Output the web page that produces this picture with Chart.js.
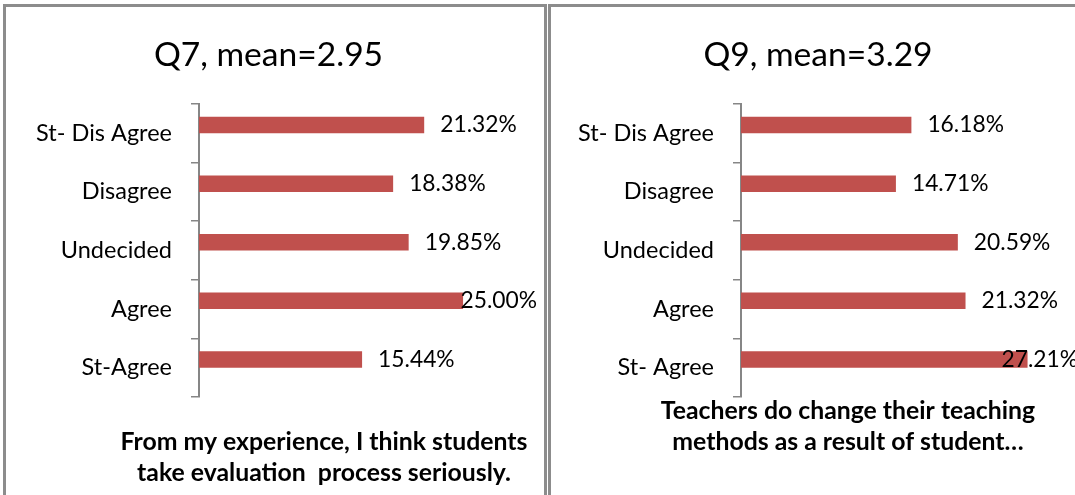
<!DOCTYPE html>
<html>
<head>
<meta charset="utf-8">
<script src="https://cdn.jsdelivr.net/npm/chart.js@4.4.1/dist/chart.umd.min.js"></script>
<style>
  html, body { margin: 0; padding: 0; background: #fff; width: 1075px; height: 495px; overflow: hidden; position: relative; }
  .panel { position: absolute; box-sizing: border-box; border: 3px solid #8c8c8c; border-bottom: none; }
  canvas { position: absolute; top: 0; }
</style>
</head>
<body>
<div class="panel" style="left:3px; top:4px; width:544px; height:520px;"></div>
<div class="panel" style="left:548px; top:4px; width:560px; height:520px;"></div>
<canvas id="q7" width="543" height="495" style="left:0px"></canvas>
<canvas id="q9" width="526" height="495" style="left:558px"></canvas>
<script>
const q7Labels = ["St- Dis Agree", "Disagree", "Undecided", "Agree", "St-Agree"]
const q7Values = [21.32, 18.38, 19.85, 25.00, 15.44]
const q7Title = "Q7, mean=2.95"
const q7Caption = ["From my experience, I think students", "take evaluation  process seriously."]

const q9Labels = ["St- Dis Agree", "Disagree", "Undecided", "Agree", "St- Agree"]
const q9Values = [16.18, 14.71, 20.59, 21.32, 27.21]
const q9Title = "Q9, mean=3.29"
const q9Caption = ["Teachers do change their teaching", "methods as a result of student\u2026"]

const xMax = 32
const barColor = "#C0504D"
const axisColor = "#868686"

Chart.defaults.font.family = "Lato, 'DejaVu Sans', sans-serif"
Chart.defaults.color = "#000"

// value labels just past the bar end, pushed back inside the plot if they overflow
const valueLabels = {
  id: "valueLabels",
  afterDatasetsDraw(chart) {
    const ctx = chart.ctx
    const meta = chart.getDatasetMeta(0)
    const area = chart.chartArea
    ctx.save()
    ctx.font = "22.8px Lato"
    ctx.fillStyle = "#000"
    ctx.textBaseline = "middle"
    ctx.textAlign = "left"
    meta.data.forEach((bar, i) => {
      const v = chart.data.datasets[0].data[i]
      const txt = v.toFixed(2) + "%"
      const w = ctx.measureText(txt).width
      const x = Math.min(bar.x + 16, area.right - w)
      ctx.fillText(txt, x, bar.y)
    })
    ctx.restore()
  }
}

// bold axis caption under the plot
const caption = {
  id: "caption",
  afterDraw(chart, args, opts) {
    if (!opts.lines) return
    const ctx = chart.ctx
    ctx.save()
    ctx.font = "bold 24.8px Lato"
    ctx.fillStyle = "#000"
    ctx.textAlign = "center"
    ctx.textBaseline = "middle"
    opts.lines.forEach((line, i) => ctx.fillText(line, opts.x, opts.y + i * opts.lineHeight))
    ctx.restore()
  }
}

function makeChart(id, labels, values, title, captionLines, axisWidth, capX, capY) {
  return new Chart(document.getElementById(id), {
    type: "bar",
    data: {
      labels,
      datasets: [
        { data: values, backgroundColor: barColor, borderWidth: 0, categoryPercentage: 0.563, barPercentage: 1 },
        { data: labels.map(() => null), backgroundColor: barColor, categoryPercentage: 0.563, barPercentage: 1 }
      ]
    },
    options: {
      indexAxis: "y",
      responsive: false,
      animation: false,
      devicePixelRatio: 1,
      layout: { padding: { left: 0, right: 6, top: 0, bottom: 98 } },
      plugins: {
        legend: { display: false },
        tooltip: { enabled: false },
        title: {
          display: true,
          text: title,
          color: "#000",
          font: { size: 33.6, weight: "normal" },
          padding: { top: 35, bottom: 28.7 }
        },
        caption: { lines: captionLines, x: capX, y: capY, lineHeight: 31 }
      },
      scales: {
        x: { display: false, min: 0, max: xMax },
        y: {
          afterFit(scale) { scale.width = axisWidth },
          border: { display: true, color: axisColor, width: 2 },
          grid: { drawOnChartArea: false, drawTicks: true, tickLength: 8, color: axisColor, lineWidth: 1.5 },
          ticks: { padding: 19, color: "#000", font: { size: 23.5 } }
        }
      }
    },
    plugins: [valueLabels, caption]
  })
}

makeChart("q7", q7Labels, q7Values, q7Title, q7Caption, 199, 324, 442)
makeChart("q9", q9Labels, q9Values, q9Title, q9Caption, 183, 848 - 558, 411)
</script>
</body>
</html>
